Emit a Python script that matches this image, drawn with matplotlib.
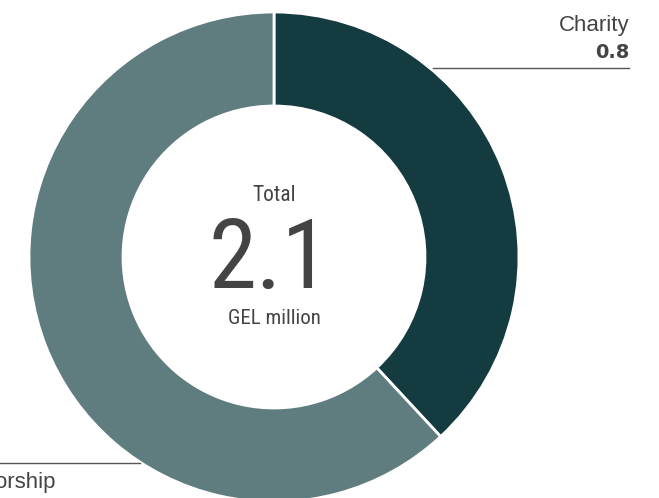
import matplotlib
matplotlib.use("Agg")
import matplotlib.pyplot as plt

categories = ["Charity", "Sponsorship"]
values = [0.8, 1.3]
total_label = "2.1"
colors = ["#133B40", "#5F7D7F"]

W, H = 659, 498
fig = plt.figure(figsize=(W / 100, H / 100), dpi=100)
ax = fig.add_axes([0, 0, 1, 1])

cx, cy = 274, H - 257
R, width = 245, 94
ax.pie(values, radius=R, center=(cx, cy), startangle=90, counterclock=False,
       colors=colors, wedgeprops=dict(width=width, edgecolor="white", linewidth=2))
ax.set_xlim(0, W)
ax.set_ylim(0, H)
ax.set_aspect("equal")
ax.axis("off")

narrow = ["Roboto Condensed", "DejaVu Sans"]
reg = ["Liberation Sans", "DejaVu Sans"]
tc = "#444444"

ax.text(cx, H - 195, "Total", ha="center", va="center", fontsize=15.5, color=tc,
        family=narrow, fontstretch="condensed")
ax.text(cx - 5, H - 262, total_label, ha="center", va="center", fontsize=70, color=tc,
        family=narrow, fontstretch="condensed")
ax.text(cx, H - 318, "GEL million", ha="center", va="center", fontsize=15, color=tc,
        family=narrow, fontstretch="condensed")

# Charity label
ax.plot([433, 629], [H - 68, H - 68], color="#555555", lw=1)
ax.text(629, H - 25, categories[0], ha="right", va="center", fontsize=16, color=tc, family=reg)
ax.text(629, H - 52, f"{values[0]:.1f}", ha="right", va="center", fontsize=14,
        color=tc, family=["DejaVu Sans"], fontweight="bold")

# Sponsorship label (partly outside the canvas)
ax.plot([0, 140], [H - 463, H - 463], color="#555555", lw=1)
ax.text(56, H - 482, categories[1], ha="right", va="center", fontsize=16, color=tc, family=reg)

fig.savefig("out.png", dpi=100)
